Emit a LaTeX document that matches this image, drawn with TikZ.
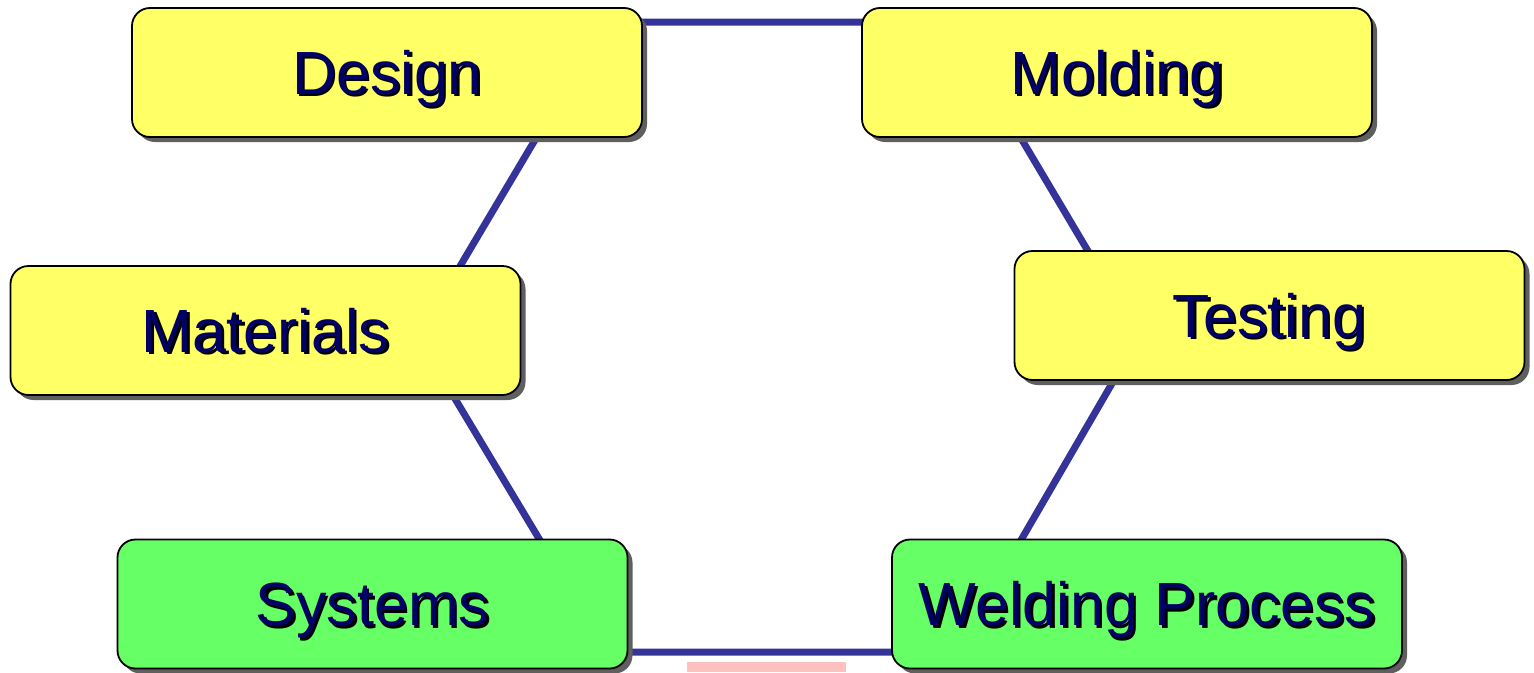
\documentclass[tikz,border=0pt]{standalone}
\usepackage{fontspec}
\setmainfont{Liberation Sans}
\usetikzlibrary{shadows}
\definecolor{boxyellow}{HTML}{FFFF66}
\definecolor{boxgreen}{HTML}{66FF66}
\definecolor{edgeblue}{HTML}{333399}
\definecolor{labelnavy}{HTML}{000066}
\definecolor{shadowgray}{HTML}{5F5F5F}
\definecolor{notepink}{HTML}{FFC0C0}
% label with a black drop shadow under navy text
\newcommand\castlabel[1]{\rlap{\kern2.5pt\raisebox{-2.5pt}{\color{black}#1}}{\color{labelnavy}#1}}
\begin{document}
\begin{tikzpicture}[x=1pt,y=-1pt,
  stage/.style={draw=black, line width=1.8pt, rounded corners=18pt,
    minimum width=510pt, minimum height=129pt, inner sep=0pt,
    text height=43.5pt, text depth=0pt,
    font=\fontsize{61}{66}\selectfont,
    drop shadow={shadow xshift=5pt, shadow yshift=-5pt, fill=shadowgray, opacity=1}},
  plan/.style={stage, fill=boxyellow},
  build/.style={stage, fill=boxgreen},
  ring/.style={draw=edgeblue, line width=7pt, line join=miter}]
\useasboundingbox (0,0) rectangle (1534,672);

% hexagonal ring behind the boxes
\coordinate (hTL) at (605,22);
\coordinate (hTR) at (952,22);
\coordinate (hR)  at (1139,337);
\coordinate (hBR) at (956,652);
\coordinate (hBL) at (607,652);
\coordinate (hL)  at (418,337);
\draw[ring] (hTL) -- (hTR) -- (hR) -- (hBR) -- (hBL) -- (hL) -- cycle;

% small pink strip at the bottom
\fill[notepink] (687,662) rectangle (846,672);

% stage boxes
\node[plan]  (design)    at (387,72.5)    {\castlabel{Design}};
\node[plan]  (molding)   at (1117,72.5)   {\castlabel{Molding}};
\node[plan]  (materials) at (265.5,330.5) {\castlabel{Materials}};
\node[plan]  (testing)   at (1269.5,315.5){\castlabel{Testing}};
\node[build] (systems)   at (372.5,604)   {\castlabel{Systems}};
\node[build] (welding)   at (1147,604)    {\castlabel{Welding Process}};
\end{tikzpicture}
\end{document}
